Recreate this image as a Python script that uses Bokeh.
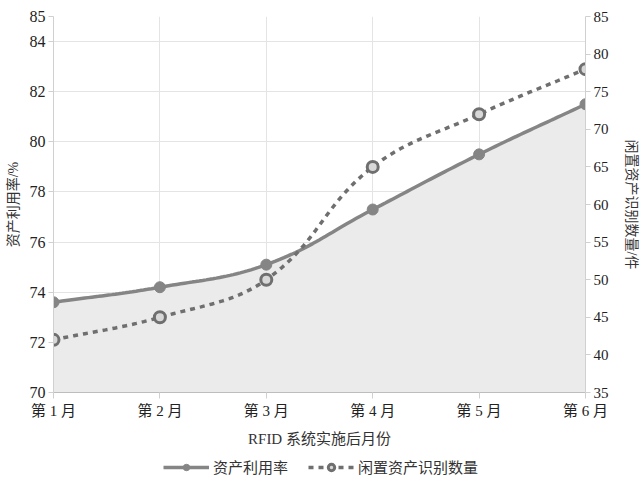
import numpy as np
from bokeh.plotting import figure
from bokeh.models import Range1d, LinearAxis, FixedTicker, Legend, LegendItem
from bokeh.layouts import column
from bokeh.embed import file_html
from bokeh.resources import INLINE

# data
months = [1, 2, 3, 4, 5, 6]
month_labels = ["第 1 月", "第 2 月", "第 3 月", "第 4 月", "第 5 月", "第 6 月"]
utilization = [73.6, 74.2, 75.1, 77.3, 79.5, 81.5]      # 资产利用率/%
idle_found = [42, 45, 50, 65, 72, 78]                  # 闲置资产识别数量/件
left_ticks = [70, 72, 74, 76, 78, 80, 82, 84, 85]
right_ticks = [35, 40, 45, 50, 55, 60, 65, 70, 75, 80, 85]

SERIF = "'Liberation Serif', 'Noto Sans CJK SC', serif"
GRID = "#e4e4e4"
SOLID = dict(line_color="#858585", line_width=3.5)
DASHED = dict(line_color="#6f6f6f", line_width=3.5, line_dash="5 5")
DOT1 = dict(size=11, fill_color="#858585", line_color="#858585")
DOT2 = dict(size=11, fill_color="#d8d8d8", line_color="#6f6f6f", line_width=3)


def smooth(xs, ys, xspan, yspan, tension=0.4, n=30):
    # chart.js style bezier through the points, sampled for drawing
    px = np.array(xs, float) / xspan
    py = np.array(ys, float) / yspan
    m = len(px)
    c_prev, c_next = [], []
    for i in range(m):
        a = max(i - 1, 0)
        b = min(i + 1, m - 1)
        d01 = np.hypot(px[i] - px[a], py[i] - py[a])
        d12 = np.hypot(px[b] - px[i], py[b] - py[i])
        tot = d01 + d12 if d01 + d12 else 1
        fa = tension * d01 / tot
        fb = tension * d12 / tot
        dx, dy = px[b] - px[a], py[b] - py[a]
        c_prev.append((px[i] - fa * dx, py[i] - fa * dy))
        c_next.append((px[i] + fb * dx, py[i] + fb * dy))
    out_x, out_y = [px[0]], [py[0]]
    t = np.linspace(0, 1, n)[1:]
    for i in range(m - 1):
        p0 = np.array([px[i], py[i]])
        p1 = np.array(c_next[i])
        p2 = np.array(c_prev[i + 1])
        p3 = np.array([px[i + 1], py[i + 1]])
        for tt in t:
            q = ((1 - tt) ** 3) * p0 + 3 * ((1 - tt) ** 2) * tt * p1 + 3 * (1 - tt) * tt ** 2 * p2 + tt ** 3 * p3
            out_x.append(q[0])
            out_y.append(q[1])
    return np.array(out_x) * xspan, np.array(out_y) * yspan


p = figure(width=642, height=450, output_backend="svg", toolbar_location=None,
           x_range=Range1d(1, 6), y_range=Range1d(70, 85),
           min_border_left=53, min_border_right=57, min_border_top=16, min_border_bottom=58)
p.extra_y_ranges = {"count": Range1d(35, 85)}
p.outline_line_color = None
p.background_fill_color = "white"

# axes
p.xaxis.ticker = FixedTicker(ticks=months)
p.xaxis.major_label_overrides = {m: lab for m, lab in zip(months, month_labels)}
p.xaxis.axis_label = "RFID 系统实施后月份"
p.yaxis.ticker = FixedTicker(ticks=left_ticks)
p.yaxis.axis_label = "资产利用率/%"

right = LinearAxis(y_range_name="count", ticker=FixedTicker(ticks=right_ticks),
                   axis_label="闲置资产识别数量/件")
p.add_layout(right, "right")

for ax in p.axis:
    ax.axis_line_color = "#d0d0d0"
    ax.axis_line_width = 1
    ax.major_tick_line_color = "#d0d0d0"
    ax.major_tick_in = 0
    ax.major_tick_out = 5
    ax.minor_tick_line_color = None
    ax.major_label_text_font = SERIF
    ax.major_label_text_font_size = "15px"
    ax.major_label_text_color = "#222222"
    ax.axis_label_text_font = SERIF
    ax.axis_label_text_font_size = "14px"
    ax.axis_label_text_font_style = "normal"
    ax.axis_label_text_color = "#333333"
    ax.major_label_standoff = 3
    ax.axis_label_standoff = 6
p.yaxis[0].major_label_text_font_size = "16px"
right.axis_label_standoff = 12
p.xaxis.axis_line_color = "#bdbdbd"
p.xaxis.major_tick_out = 6
p.xaxis.major_label_standoff = 4
p.xaxis.axis_label_standoff = 9
p.xaxis.axis_label_text_font_size = "15px"

p.xgrid.grid_line_color = GRID
p.ygrid.grid_line_color = GRID
p.xgrid.ticker = FixedTicker(ticks=months)
p.ygrid.ticker = FixedTicker(ticks=left_ticks)

# asset utilization: area + line + filled markers
ux, uy = smooth(months, utilization, 5, 15)
p.varea(x=ux, y1=70, y2=uy, fill_color="#ebebeb", fill_alpha=1)
p.line(ux, uy, **SOLID)
p.scatter(months, utilization, **DOT1)

# idle assets found: dashed line + hollow markers
ix, iy = smooth(months, idle_found, 5, 50)
p.line(ix, iy, y_range_name="count", **DASHED)
p.scatter(months, idle_found, y_range_name="count", **DOT2)

# legend strip below the chart (its renderers sit outside the visible range)
leg = figure(width=642, height=32, output_backend="svg", toolbar_location=None,
             min_border_left=0, min_border_right=0, min_border_top=0, min_border_bottom=0,
             x_range=Range1d(-2, -1), y_range=Range1d(-2, -1))
leg.axis.visible = False
leg.grid.visible = False
leg.outline_line_color = None
l1 = leg.line(months, utilization, **SOLID)
m1 = leg.scatter(months, utilization, **DOT1)
l2 = leg.line(months, idle_found, **DASHED)
m2 = leg.scatter(months, idle_found, **DOT2)
legend = Legend(items=[LegendItem(label="资产利用率", renderers=[l1, m1]),
                       LegendItem(label="闲置资产识别数量", renderers=[l2, m2])],
                orientation="horizontal", location=(110, 5),
                label_text_font=SERIF, label_text_font_size="15px",
                label_text_color="#333333", glyph_width=46, glyph_height=16,
                label_height=16, label_standoff=4, spacing=20,
                border_line_color=None, background_fill_alpha=0, margin=0, padding=0)
leg.add_layout(legend, "center")

page = column(p, leg, spacing=0)
open("out.html", "w").write(file_html(page, INLINE))
